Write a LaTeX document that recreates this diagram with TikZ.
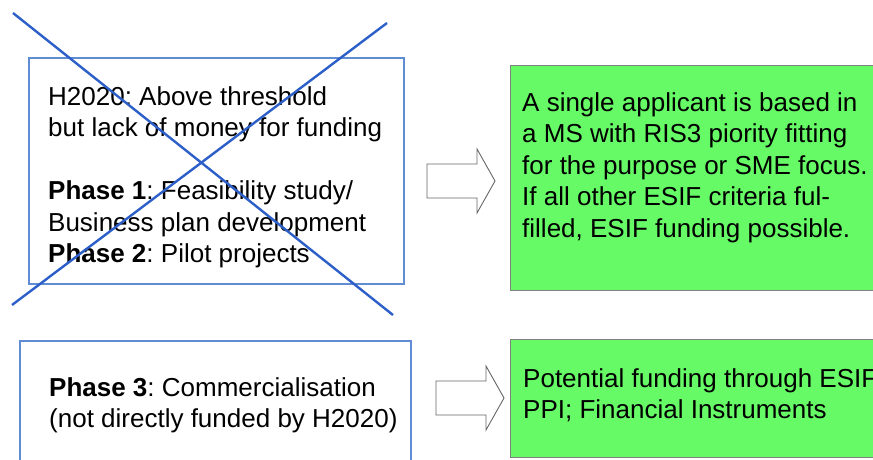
\documentclass[tikz,border=0pt]{standalone}
\usepackage{fontspec}
\setmainfont{Liberation Sans}
\usepackage{xcolor}
\usetikzlibrary{positioning}
\definecolor{boxblue}{RGB}{95,140,210}
\definecolor{crossblue}{RGB}{45,95,200}
\definecolor{esifgreen}{RGB}{102,250,102}

\begin{document}
\begin{tikzpicture}[x=1pt,y=-1pt,
  phasebox/.style={draw=boxblue,line width=1.6pt,rectangle,inner sep=0pt,anchor=north west},
  esifbox/.style={draw=gray,fill=esifgreen,line width=0.8pt,rectangle,inner sep=0pt,anchor=north west},
  txt/.style={inner sep=0pt,align=left,font=\fontsize{26pt}{31.5pt}\selectfont\frenchspacing},
  cross/.style={draw=crossblue,line width=2.4pt},
  hollow/.pic={\path[draw=black!60,line width=0.9pt,fill=white]
    (0,-17) -- (50,-17) -- (50,-32) -- (68,0) -- (50,32) -- (50,17) -- (0,17) -- cycle;}]
\useasboundingbox (0,0) rectangle (873,459);
\clip (0,0) rectangle (873,459);
      \node[phasebox,minimum width=375pt,minimum height=226pt] (h2020) at (28,57) {};
      \node[txt,below right=29pt and 20pt of h2020.north west] (h2020txt)
        {H2020: Above threshold\\but lack of money for funding\\[31.5pt]
         \textbf{Phase 1}: Feasibility study/\\Business plan development\\
         \textbf{Phase 2}: Pilot projects};
      \node[esifbox,minimum width=380pt,minimum height=225pt] (esif) at (510,65) {};
      \node[txt,below right=27pt and 12pt of esif.north west] (esiftxt)
        {A single applicant is based in\\a MS with RIS3 piority fitting\\
         for the purpose or SME focus.\\If all other ESIF criteria ful-\\
         filled, ESIF funding possible.};
      \node[phasebox,minimum width=391pt,minimum height=130pt] (phase3) at (19,340) {};
      \node[txt,below right=37pt and 30pt of phase3.north west] (phase3txt)
        {\textbf{Phase 3}: Commercialisation\\(not directly funded by H2020)};
      \node[esifbox,minimum width=380pt,minimum height=118pt] (ppi) at (510,339) {};
      \node[txt,below right=29pt and 13pt of ppi.north west] (ppitxt)
        {Potential funding through ESIF\\PPI; Financial Instruments};
      \pic at (427,181) {hollow};
      \pic at (436,398) {hollow};
      \draw[cross] (13,13) -- (393,315);
      \draw[cross] (387,23) -- (12,305);
\end{tikzpicture}
\end{document}
